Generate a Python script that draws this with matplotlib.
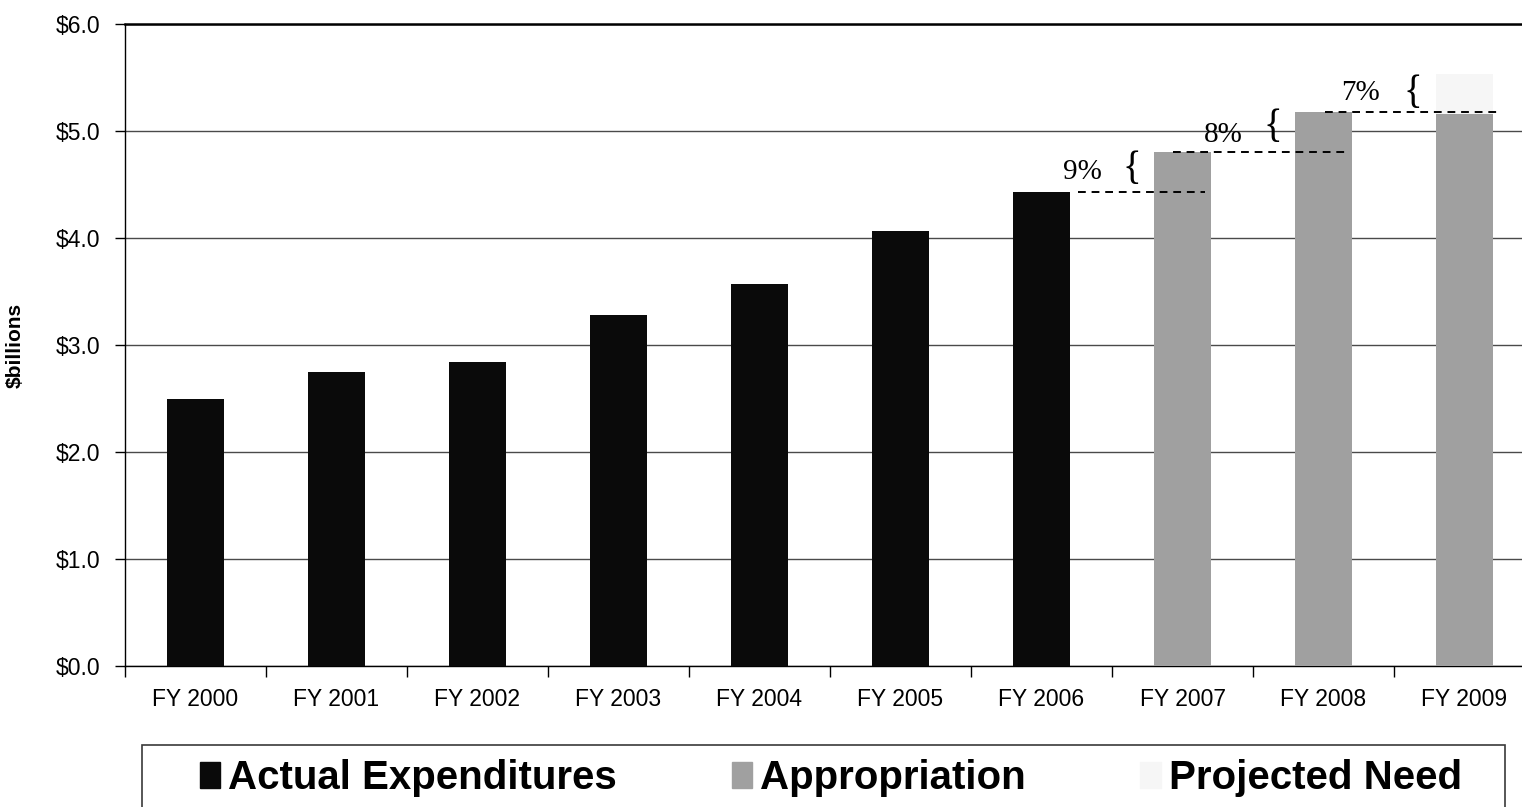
"""Bar chart of yearly expenditures, appropriations and projected need."""

import matplotlib
matplotlib.use("Agg")
import matplotlib.pyplot as plt
from matplotlib.patches import Patch, Rectangle
import numpy as np

# data ($ billions)
years = ["FY 2000", "FY 2001", "FY 2002", "FY 2003", "FY 2004",
         "FY 2005", "FY 2006", "FY 2007", "FY 2008", "FY 2009"]
actual = [2.50, 2.75, 2.84, 3.28, 3.57, 4.07, 4.43]
appropriation = [4.80, 5.18, 5.16]
projected_need = [5.53]
pct_labels = ["9%", "8%", "7%"]

SANS = "Liberation Sans"
SERIF = "Liberation Serif"
BLACK = "#0a0a0a"
GRAY = "#a0a0a0"
LIGHT = "#f6f6f6"

plt.rcParams["font.family"] = SANS

fig = plt.figure(figsize=(15.22, 8.07), dpi=100)
# axes run slightly past the right edge, like the original export
ax = fig.add_axes([125 / 1522, 1 - 666 / 807, 1410 / 1522, 642 / 807])

x = np.arange(len(years))
n_act = len(actual)
x_act = x[:n_act]
x_app = x[n_act:n_act + len(appropriation)]
x_proj = x[len(years) - len(projected_need):]

width = 0.41
ax.bar(x_proj, projected_need, width, color=LIGHT, zorder=2)
ax.bar(x_act, actual, width, color=BLACK, zorder=3)
ax.bar(x_app, appropriation, width, color=GRAY, zorder=3)

# dashed step lines from one year's level into the next year, with growth labels
levels = [actual[-1], appropriation[0], appropriation[1]]
dash_start = [0.26, -0.07, 0.01]   # offsets from the year the level belongs to
dash_end = [1.16, 1.17, 1.24]
text_dx = [0.29, 0.29, 0.26]
text_dy = [0.19, 0.16, 0.175]
brace_dx = [0.64, 0.64, 0.63]
brace_dy = [0.21, 0.23, 0.175]
for i, (lvl, lab) in enumerate(zip(levels, pct_labels)):
    base = x[n_act - 1 + i]
    ax.plot([base + dash_start[i], base + dash_end[i]], [lvl, lvl],
            color="black", ls=(0, (4, 3)), lw=1.4, zorder=4)
    ax.text(base + text_dx[i], lvl + text_dy[i], lab, family=SERIF,
            fontsize=21, ha="center", va="center", zorder=5)
    ax.text(base + brace_dx[i], lvl + brace_dy[i], "{", family=SERIF,
            fontsize=28, ha="center", va="center", zorder=5)

ax.set_xlim(-0.5, len(years) - 0.5)
ax.set_ylim(0, 6)
ax.set_yticks(np.arange(0, 7, 1))
ax.set_yticklabels([f"${v:.1f}" for v in np.arange(0, 7, 1)])
ax.set_xticks(x)
ax.set_xticklabels(years)
ax.set_xticks(np.arange(-0.5, len(years), 1), minor=True)

ax.tick_params(axis="x", which="major", length=0, pad=16, labelsize=16.5)
ax.tick_params(axis="x", which="minor", length=8, width=1, color="black")
ax.tick_params(axis="y", length=7, width=1, pad=11, labelsize=16.5)

ax.yaxis.grid(True, color="#4a4a4a", lw=1.0, zorder=0)
ax.set_axisbelow(True)
ax.spines["right"].set_visible(False)
ax.spines["top"].set_linewidth(1.8)
for s in ("left", "bottom"):
    ax.spines[s].set_linewidth(1.0)

ax.set_ylabel("$billions", fontsize=15, fontweight="bold", labelpad=22)

# legend box running off the bottom edge
fig.patches.append(Rectangle((142 / 1522, -0.05), 1363 / 1522, 0.05 + 62 / 807,
                             transform=fig.transFigure, fill=False,
                             edgecolor="#3a3a3a", lw=1.2))
handles = [Patch(color=BLACK, label="Actual Expenditures"),
           Patch(color=GRAY, label="Appropriation"),
           Patch(color=LIGHT, label="Projected Need")]
fig.legend(handles=handles, loc="center left", bbox_to_anchor=(200 / 1522, 1 - 778 / 807),
           ncol=3, frameon=False, prop={"weight": "bold", "size": 29},
           handlelength=0.5, handleheight=0.6, handletextpad=0.2,
           columnspacing=2.85, borderpad=0, borderaxespad=0)

fig.savefig("out.png", dpi=100)
